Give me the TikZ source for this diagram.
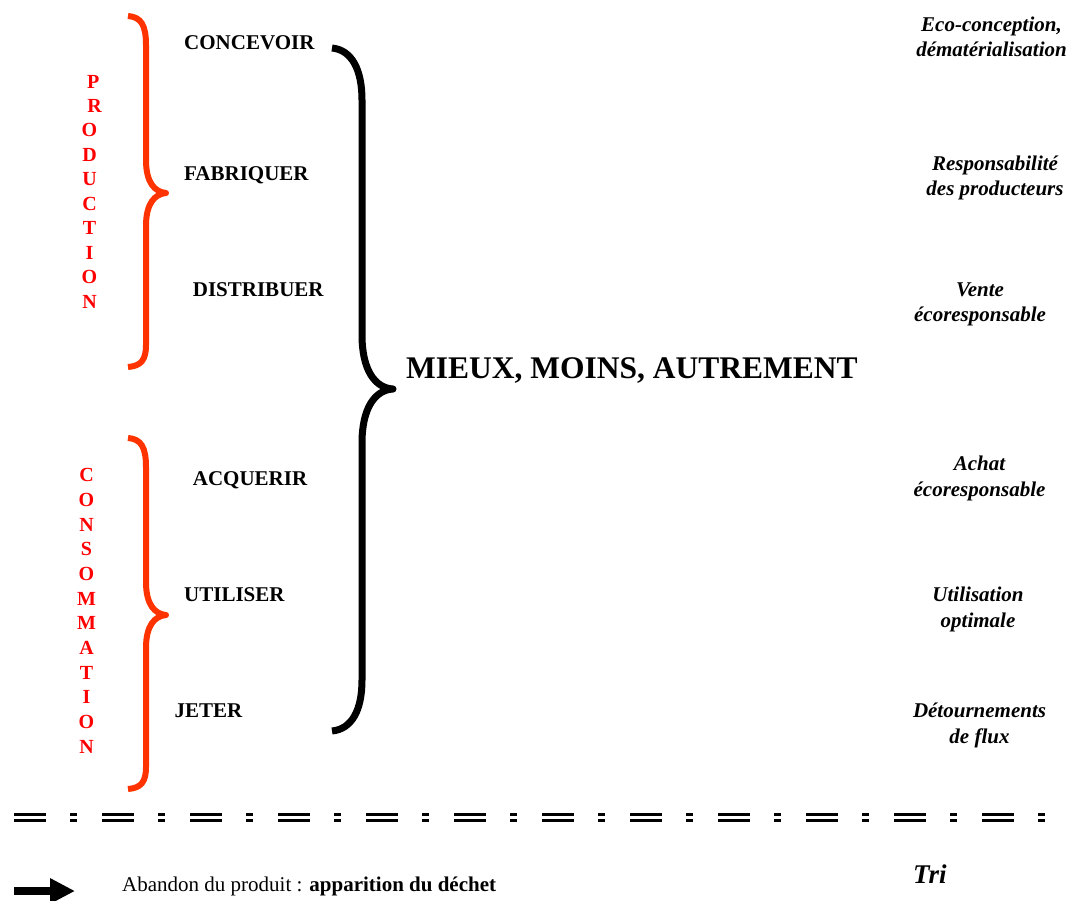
\documentclass[tikz,border=0pt]{standalone}
\usepackage{fontspec}
\setmainfont{Liberation Serif}
\usetikzlibrary{arrows.meta}
\definecolor{bracered}{HTML}{FF3300}
\definecolor{textred}{HTML}{FF0000}
\begin{document}
\begin{tikzpicture}[x=1pt,y=-1pt,
  verb/.style={font=\fontsize{21}{25}\selectfont\bfseries, anchor=base west, inner sep=0pt},
  action/.style={font=\fontsize{21}{25.5}\selectfont\bfseries\itshape, align=center, anchor=base, inner sep=0pt},
  vert/.style={font=\bfseries, text=textred, align=center, anchor=base, inner sep=0pt},
  redbrace/.style={line width=6pt, draw=bracered, line join=round},
  bigbrace/.style={line width=7pt, draw=black, line join=round},
  sepline/.style={line width=3pt, dash pattern=on 32pt off 24pt on 7pt off 25pt},
  bigarrow/.style={line width=8pt, -{Triangle[length=25pt,width=24pt]}}]
\useasboundingbox (0,0) rectangle (1068,900);
\clip (0,0) rectangle (1068,900);

% red braces
\draw[redbrace] (128,16) .. controls (141,17) and (146,25) .. (146,45) -- (146,160)
  .. controls (146,183) and (155,192) .. (166,193)
  .. controls (155,194) and (146,203) .. (146,226) -- (146,345)
  .. controls (146,360) and (141,366) .. (128,367);
\draw[redbrace] (128,438) .. controls (141,439) and (146,447) .. (146,467) -- (146,582)
  .. controls (146,605) and (155,614) .. (166,615)
  .. controls (155,616) and (146,625) .. (146,648) -- (146,767)
  .. controls (146,782) and (141,788) .. (128,789);

% big black brace
\draw[bigbrace] (332,48) .. controls (352,50) and (362,70) .. (362,100) -- (362,335)
  .. controls (362,370) and (375,388) .. (393,389)
  .. controls (375,390) and (362,408) .. (362,443) -- (362,680)
  .. controls (362,710) and (352,729) .. (332,731);

% vertical red words (anchor base = last line)
\node[vert, font=\fontsize{20}{24.44}\selectfont\bfseries] (production) at (89.5,308)
  {\hspace*{7.6pt}P\\\hspace*{10pt}R\\O\\D\\U\\C\\T\\I\\O\\N};
\node[vert, font=\fontsize{20}{24.64}\selectfont\bfseries] (consommation) at (86.5,753)
  {C\\O\\N\\S\\O\\M\\M\\A\\T\\I\\O\\N};

% verbs
\node[verb] (concevoir) at (184,49) {CONCEVOIR};
\node[verb] (fabriquer) at (184,180) {FABRIQUER};
\node[verb] (distribuer) at (192.7,296) {DISTRIBUER};
\node[verb] (acquerir) at (192.7,485.5) {ACQUERIR};
\node[verb] (utiliser) at (184,601) {UTILISER};
\node[verb] (jeter) at (174.3,717.5) {JETER};

% title
\node[anchor=base west, inner sep=0pt, font=\fontsize{31.5}{36}\selectfont\bfseries] (title) at (406,378) {MIEUX, MOINS, AUTREMENT};

% right column (anchor base = last line)
\node[action] (eco) at (991.5,56.5) {Eco-conception,\\dématérialisation};
\node[action] (resp) at (995,195.5) {Responsabilité\\des producteurs};
\node[action] (vente) at (980,321.5) {Vente\\écoresponsable};
\node[action] (achat) at (979.5,496.2) {Achat\\écoresponsable};
\node[action] (utilisation) at (978,627.2) {Utilisation\\optimale};
\node[action] (detour) at (979.5,743.2) {Détournements\\de flux};

% separator
\coordinate (s1a) at (14,814.5);
\coordinate (s1b) at (1048,814.5);
\coordinate (s2a) at (14,820.5);
\coordinate (s2b) at (1048,820.5);
\draw[sepline] (s1a) -- (s1b);
\draw[sepline] (s2a) -- (s2b);

% bottom legend
\coordinate (arrowstart) at (14,891);
\coordinate (arrowend) at (75,891);
\draw[bigarrow] (arrowstart) -- (arrowend);
\node[anchor=base west, inner sep=0pt, font=\fontsize{21}{25}\selectfont] (abandon) at (122,891) {Abandon du produit : \textbf{apparition du déchet}};
\node[anchor=base west, inner sep=0pt, font=\fontsize{27}{30}\selectfont\bfseries\itshape] (tri) at (913,883) {Tri};
\end{tikzpicture}
\end{document}
